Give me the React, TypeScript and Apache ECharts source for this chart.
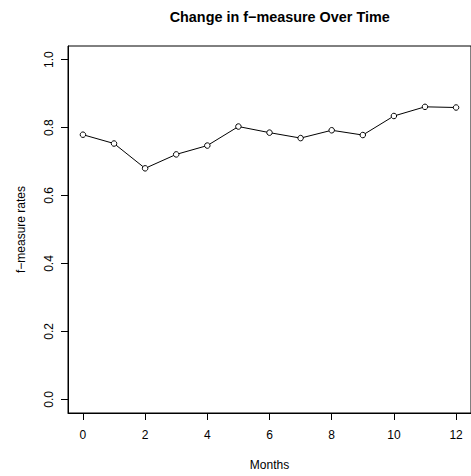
import React, { useEffect, useRef } from "react";
import * as echarts from "echarts";

const months = [0, 1, 2, 3, 4, 5, 6, 7, 8, 9, 10, 11, 12];
const fMeasure = [0.779, 0.753, 0.68, 0.721, 0.747, 0.803, 0.785, 0.769, 0.792, 0.778, 0.834, 0.861, 0.859];
const xTicks = [0, 2, 4, 6, 8, 10, 12];
const yTicks = [0, 0.2, 0.4, 0.6, 0.8, 1.0];

const FONT = "'Liberation Sans', Arial, Helvetica, sans-serif";

export default function App() {
  const ref = useRef<HTMLDivElement>(null);
  useEffect(() => {
    if (!ref.current) return;
    const chart = echarts.init(ref.current, null, { renderer: "svg" });
    chart.setOption({
      animation: false,
      backgroundColor: "#ffffff",
      title: {
        text: "Change in f\u2212measure Over Time",
        left: 274.7,
        top: 5,
        textAlign: "center",
        textStyle: { fontFamily: FONT, fontSize: 14.4, fontWeight: "bold", color: "#000" },
      },
      grid: {
        left: 68,
        top: 46,
        width: 413.4,
        height: 370.7,
        show: true,
        borderColor: "#000",
        borderWidth: 1,
        backgroundColor: "transparent",
      },
      xAxis: {
        type: "value",
        min: -0.48,
        max: 12.48,
        name: "Months",
        nameLocation: "middle",
        nameGap: 46,
        nameTextStyle: { fontFamily: FONT, fontSize: 12, color: "#000" },
        axisLine: { show: true, onZero: false, lineStyle: { color: "#000", width: 1 } },
        axisTick: { show: true, inside: false, length: 7, customValues: xTicks, lineStyle: { color: "#000" } },
        axisLabel: {
          customValues: xTicks,
          margin: 16,
          fontFamily: FONT,
          fontSize: 12,
          color: "#000",
          showMinLabel: true,
          showMaxLabel: true,
        },
        splitLine: { show: false },
      },
      yAxis: {
        type: "value",
        min: -0.04,
        max: 1.04,
        name: "f\u2212measure rates",
        nameLocation: "middle",
        nameRotate: 90,
        nameGap: 41,
        nameTextStyle: { fontFamily: FONT, fontSize: 12, color: "#000" },
        axisLine: { show: true, onZero: false, lineStyle: { color: "#000", width: 1 } },
        axisTick: { show: true, inside: false, length: 7, customValues: yTicks, lineStyle: { color: "#000" } },
        axisLabel: {
          customValues: yTicks,
          rotate: 90,
          margin: 13,
          fontFamily: FONT,
          fontSize: 12,
          color: "#000",
          formatter: (v: number) => v.toFixed(1),
          showMinLabel: true,
          showMaxLabel: true,
        },
        splitLine: { show: false },
      },
      series: [
        {
          type: "line",
          data: months.map((m, i) => [m, fMeasure[i]]),
          symbol: "circle",
          symbolSize: 5.5,
          lineStyle: { color: "#000", width: 1 },
          itemStyle: { color: "#ffffff", borderColor: "#000", borderWidth: 1 },
        },
      ],
    });
    return () => chart.dispose();
  }, []);
  return (
    <div
      ref={ref}
      style={{ position: "absolute", left: 0, top: 0, width: 471, height: 476, overflow: "hidden" }}
    />
  );
}
